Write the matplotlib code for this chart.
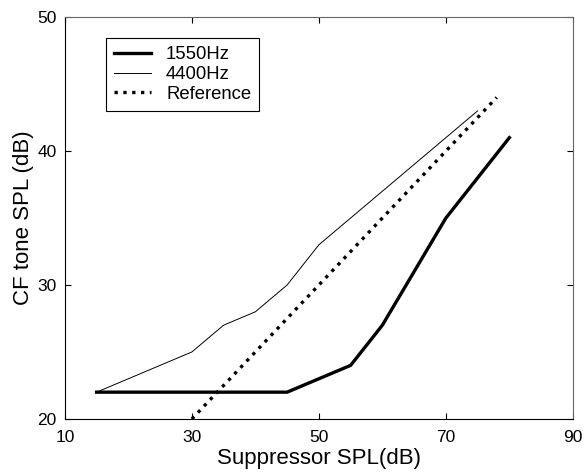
import numpy as np
import matplotlib.pyplot as plt

plt.rcParams['font.family'] = ['Liberation Sans', 'DejaVu Sans']

# 1550 Hz suppressor (thick)
x_1550 = [15, 45, 50, 55, 60, 70, 80]
y_1550 = [22, 22, 23, 24, 27, 35, 41]

# 4400 Hz suppressor (thin)
x_4400 = [15, 30, 35, 40, 45, 50, 75]
y_4400 = [22, 25, 27, 28, 30, 33, 43]

# reference line
x_ref = [30, 78]
y_ref = [20, 44]

fig = plt.figure(figsize=(5.84, 4.75), dpi=100)
ax = fig.add_axes([0.111, 0.118, 0.870, 0.846])

ax.plot(x_1550, y_1550, 'k-', lw=2.4, label='1550Hz')
ax.plot(x_4400, y_4400, 'k-', lw=0.7, label='4400Hz')
ax.plot(x_ref, y_ref, 'k:', lw=2.4, label='Reference')

ax.set_xlim(10, 90)
ax.set_ylim(20, 50)
ax.set_xticks([10, 30, 50, 70, 90])
ax.set_yticks([20, 30, 40, 50])
ax.tick_params(direction='in', top=True, right=True, labelsize=12.5, length=4, width=0.8)
ax.tick_params(axis='x', pad=8)
ax.tick_params(axis='y', pad=6)
for s in ['top', 'right']:
    ax.spines[s].set_color('#666666')
ax.set_xlabel('Suppressor SPL(dB)', fontsize=16, labelpad=2)
ax.set_ylabel('CF tone SPL (dB)', fontsize=16, labelpad=2)

leg = ax.legend(loc='upper left', bbox_to_anchor=(0.081, 0.948), fontsize=13.3,
                frameon=True, fancybox=False, edgecolor='k', framealpha=1,
                handlelength=2.0, borderpad=0.45, labelspacing=0.15, handletextpad=0.8,
                borderaxespad=0)
leg.get_frame().set_linewidth(0.8)

fig.savefig('out.png', dpi=100)
